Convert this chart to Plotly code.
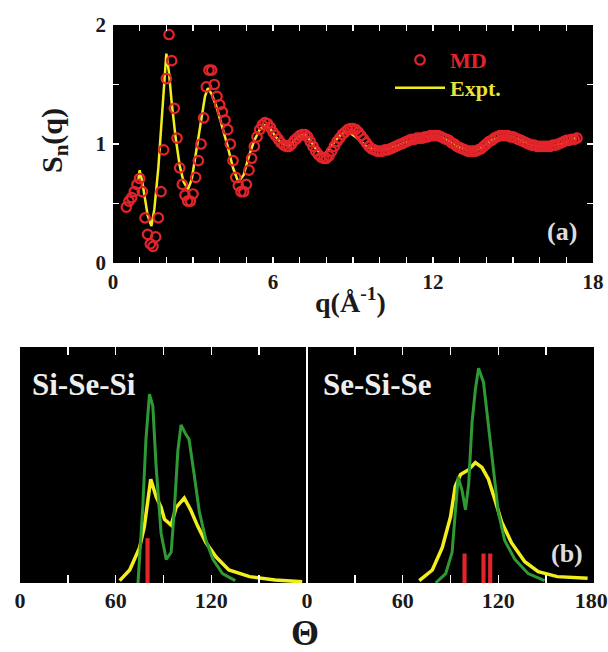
import plotly.graph_objects as go

# ---------------- panel (a): S_n(q) ----------------
q_md = [0.5, 0.6, 0.7, 0.8, 0.9, 1.0, 1.1, 1.2, 1.3, 1.4, 1.5, 1.6, 1.7, 1.8, 1.9,
        2.0, 2.1, 2.2, 2.3, 2.4, 2.5, 2.6, 2.7, 2.8, 2.9, 3.0, 3.1, 3.2, 3.3, 3.4,
        3.5, 3.6, 3.7, 3.8, 3.9, 4.0, 4.1, 4.2, 4.3, 4.4, 4.5, 4.6, 4.7, 4.8, 4.9,
        5.0, 5.1, 5.2, 5.3, 5.4, 5.5, 5.6, 5.7, 5.8, 5.9, 6.0, 6.1, 6.2, 6.3, 6.4,
        6.5, 6.6, 6.7, 6.8, 6.9, 7.0, 7.1, 7.2, 7.3, 7.4, 7.5, 7.6, 7.7, 7.8, 7.9,
        8.0, 8.1, 8.2, 8.3, 8.4, 8.5, 8.6, 8.7, 8.8, 8.9, 9.0, 9.1, 9.2, 9.3, 9.4,
        9.5, 9.6, 9.7, 9.8, 9.9, 10.0, 10.1, 10.2, 10.3, 10.4, 10.5, 10.6, 10.7, 10.8, 10.9,
        11.0, 11.1, 11.2, 11.3, 11.4, 11.5, 11.6, 11.7, 11.8, 11.9, 12.0, 12.1, 12.2, 12.3, 12.4,
        12.5, 12.6, 12.7, 12.8, 12.9, 13.0, 13.1, 13.2, 13.3, 13.4, 13.5, 13.6, 13.7, 13.8, 13.9,
        14.0, 14.1, 14.2, 14.3, 14.4, 14.5, 14.6, 14.7, 14.8, 14.9, 15.0, 15.1, 15.2, 15.3, 15.4,
        15.5, 15.6, 15.7, 15.8, 15.9, 16.0, 16.1, 16.2, 16.3, 16.4, 16.5, 16.6, 16.7, 16.8, 16.9,
        17.0, 17.1, 17.2, 17.3, 17.4]
s_md = [0.47, 0.52, 0.55, 0.60, 0.66, 0.71, 0.60, 0.38, 0.24, 0.16, 0.14, 0.22, 0.38, 0.60, 0.95,
        1.55, 1.92, 1.70, 1.30, 1.05, 0.80, 0.66, 0.57, 0.52, 0.52, 0.58, 0.72, 0.86, 1.00, 1.22,
        1.48, 1.62, 1.62, 1.50, 1.40, 1.33, 1.27, 1.20, 1.12, 1.00, 0.86, 0.72, 0.65, 0.60, 0.60,
        0.66, 0.78, 0.88, 0.98, 1.06, 1.12, 1.16, 1.18, 1.17, 1.14, 1.10, 1.07, 1.04, 1.01, 0.99,
        0.98, 0.98, 1.00, 1.03, 1.05, 1.07, 1.08, 1.08, 1.06, 1.02, 0.98, 0.94, 0.91, 0.89, 0.88,
        0.88, 0.90, 0.94, 0.98, 1.02, 1.05, 1.08, 1.10, 1.12, 1.13, 1.13, 1.12, 1.10, 1.07, 1.04,
        1.01, 0.98, 0.96, 0.95, 0.94, 0.94, 0.94, 0.95, 0.95, 0.96, 0.97, 0.98, 0.99, 1.00, 1.01,
        1.02, 1.03, 1.04, 1.04, 1.05, 1.05, 1.05, 1.06, 1.06, 1.07, 1.07, 1.07, 1.07, 1.06, 1.05,
        1.04, 1.03, 1.01, 1.00, 0.98, 0.97, 0.96, 0.95, 0.94, 0.94, 0.94, 0.94, 0.95, 0.96, 0.98,
        1.00, 1.02, 1.03, 1.05, 1.06, 1.07, 1.07, 1.07, 1.07, 1.06, 1.06, 1.05, 1.04, 1.03, 1.02,
        1.01, 1.00, 0.99, 0.99, 0.98, 0.98, 0.98, 0.98, 0.98, 0.98, 0.99, 0.99, 1.00, 1.01, 1.02,
        1.03, 1.03, 1.04, 1.04, 1.05]

q_expt = [0.95, 1.0, 1.1, 1.2, 1.3, 1.44, 1.55, 1.7, 1.85, 2.0, 2.1, 2.2, 2.35, 2.5, 2.65,
          2.81, 2.95, 3.1, 3.3, 3.45, 3.56, 3.7, 3.9, 4.1, 4.3, 4.5, 4.7, 4.9, 5.1, 5.3,
          5.5, 5.7, 5.9, 6.1, 6.3, 6.5, 6.65, 6.8, 7.0, 7.2, 7.4, 7.6, 7.8, 7.95, 8.1,
          8.3, 8.5, 8.7, 8.9, 9.1, 9.3, 9.5, 9.7, 10.0, 10.3, 10.6, 10.9, 11.2, 11.5, 11.8,
          12.1, 12.4, 12.7, 13.0, 13.3, 13.6, 13.9, 14.2, 14.5, 14.8, 15.1, 15.4, 15.7, 16.0, 16.3,
          16.6, 16.9, 17.2, 17.4]
s_expt = [0.70, 0.78, 0.68, 0.52, 0.40, 0.31, 0.45, 0.80, 1.25, 1.76, 1.60, 1.35, 1.05, 0.82, 0.68,
          0.62, 0.70, 0.90, 1.20, 1.40, 1.47, 1.42, 1.30, 1.15, 0.98, 0.80, 0.68, 0.74, 0.90, 1.03,
          1.12, 1.16, 1.13, 1.06, 1.01, 0.99, 0.99, 1.03, 1.07, 1.08, 1.03, 0.96, 0.92, 0.92, 0.96,
          1.02, 1.07, 1.10, 1.09, 1.06, 1.02, 0.98, 0.96, 0.95, 0.96, 0.98, 1.01, 1.03, 1.05, 1.06,
          1.07, 1.05, 1.01, 0.97, 0.95, 0.95, 0.98, 1.03, 1.06, 1.07, 1.05, 1.02, 0.99, 0.98, 0.98,
          0.99, 1.01, 1.04, 1.05]

# ---------------- panel (b): bond-angle distributions ----------------
# Si-Se-Si
th_sesi_yel = [62.5, 68.8, 75, 78, 82, 85.4, 88.5, 90.6, 94.8, 97.9, 103, 107, 111.5, 116.7, 123, 131, 144, 160, 177]
p_sesi_yel = [0.01, 0.055, 0.15, 0.24, 0.44, 0.365, 0.32, 0.27, 0.245, 0.32, 0.36, 0.31, 0.24, 0.17, 0.11, 0.055, 0.027, 0.013, 0.005]
th_sesi_grn = [74, 77, 79, 81.2, 83.3, 85.4, 88.5, 91.7, 94.8, 96.9, 99, 101, 104, 106, 109, 112.5, 116.7, 121, 127, 135]
p_sesi_grn = [0.0, 0.32, 0.61, 0.80, 0.75, 0.49, 0.21, 0.10, 0.13, 0.32, 0.56, 0.67, 0.63, 0.61, 0.47, 0.30, 0.18, 0.10, 0.04, 0.01]
th_sesi_bar = [80]
h_sesi_bar = [0.19]

# Se-Si-Se
th_sise_yel = [70.4, 78.6, 84.8, 90, 93, 96.3, 101.4, 105.6, 109.7, 113.8, 118, 122, 128.3, 136.6, 145, 157, 176]
p_sise_yel = [0.01, 0.055, 0.15, 0.28, 0.41, 0.46, 0.48, 0.51, 0.49, 0.44, 0.35, 0.26, 0.17, 0.09, 0.048, 0.027, 0.02]
th_sise_grn = [80.7, 87, 91, 93, 94.8, 97.3, 99.4, 101.4, 103.5, 105.6, 107.6, 110.7, 113.8, 117, 120, 124, 130.4, 138.7, 149]
p_sise_grn = [0.0, 0.04, 0.13, 0.32, 0.45, 0.39, 0.31, 0.42, 0.68, 0.82, 0.91, 0.85, 0.66, 0.46, 0.30, 0.18, 0.10, 0.04, 0.01]
th_sise_bar = [98.8, 110.7, 114.9]
h_sise_bar = [0.125, 0.125, 0.125]

# tick labels
q_tickvals = list(range(0, 19))
q_ticktext = ["<b>%d</b>" % v if v % 6 == 0 else " " for v in q_tickvals]
s_tickvals = [0, 0.5, 1, 1.5, 2]
s_ticktext = ["<b>0</b>", " ", "<b>1</b>", " ", "<b>2</b>"]
th_tickvals = [0, 30, 60, 90, 120, 150, 180]
th_ticktext_left = ["<b>0</b>", " ", "<b>60</b>", " ", "<b>120</b>", " ", " "]
th_ticktext_right = ["<b>0</b>", " ", "<b>60</b>", " ", "<b>120</b>", " ", "<b>180</b>&nbsp;"]

RED = "#e3242b"
YEL = "#f2ee1e"
GRN = "#2f9a34"
SERIF = "Liberation Serif"

W, H = 608, 652
def px(x):
    return x / W
def py(y):
    return 1 - y / H

fig = go.Figure()

fig.add_trace(go.Scatter(x=q_expt, y=s_expt, mode="lines", name='<b><span style="color:#e8e23a">Expt.</span></b>',
                         line=dict(color=YEL, width=2.5), xaxis="x", yaxis="y", legend="legend2"))
fig.add_trace(go.Scatter(x=q_md, y=s_md, mode="markers", name='<b><span style="color:#e3242b">MD</span></b>',
                         marker=dict(symbol="circle-open", size=9.5, color=RED, line=dict(width=2.2, color=RED)),
                         xaxis="x", yaxis="y", legend="legend"))

# left bottom
fig.add_trace(go.Bar(x=th_sesi_bar, y=h_sesi_bar, width=2.6, marker=dict(color=RED, line=dict(width=0)),
                     xaxis="x2", yaxis="y2", showlegend=False))
fig.add_trace(go.Scatter(x=th_sesi_yel, y=p_sesi_yel, mode="lines", line=dict(color=YEL, width=3.5),
                         xaxis="x2", yaxis="y2", showlegend=False))
fig.add_trace(go.Scatter(x=th_sesi_grn, y=p_sesi_grn, mode="lines", line=dict(color=GRN, width=3),
                         xaxis="x2", yaxis="y2", showlegend=False))
# right bottom
fig.add_trace(go.Bar(x=th_sise_bar, y=h_sise_bar, width=2.6, marker=dict(color=RED, line=dict(width=0)),
                     xaxis="x3", yaxis="y3", showlegend=False))
fig.add_trace(go.Scatter(x=th_sise_yel, y=p_sise_yel, mode="lines", line=dict(color=YEL, width=3.5),
                         xaxis="x3", yaxis="y3", showlegend=False))
fig.add_trace(go.Scatter(x=th_sise_grn, y=p_sise_grn, mode="lines", line=dict(color=GRN, width=3),
                         xaxis="x3", yaxis="y3", showlegend=False))

def axis_common(size, standoff):
    return dict(ticks="inside", tickcolor="white", tickwidth=1.5, showgrid=False, zeroline=False,
                showline=False, mirror="ticks", automargin=False, fixedrange=True,
                ticklabeloverflow="allow", ticklabelstandoff=standoff,
                tickfont=dict(family=SERIF, size=size, color="#1a1a1a"))

fig.update_layout(
    template="none",
    width=W, height=H, margin=dict(l=0, r=0, t=0, b=0, autoexpand=False),
    paper_bgcolor="white", plot_bgcolor="black",
    barmode="overlay",
    xaxis=dict(domain=[px(113), px(593)], range=[0, 18], tickvals=q_tickvals, ticktext=q_ticktext,
               ticklen=6, anchor="y", **axis_common(21, 4)),
    yaxis=dict(domain=[py(263), py(25)], range=[0, 2], tickvals=s_tickvals, ticktext=s_ticktext,
               ticklen=6, anchor="x", **axis_common(21, 6)),
    xaxis2=dict(domain=[px(20), px(307)], range=[0, 180], tickvals=th_tickvals, ticktext=th_ticktext_left,
                ticklen=8, anchor="y2", **axis_common(22, 2)),
    yaxis2=dict(domain=[py(583), py(347)], range=[0, 1], showticklabels=False, ticks="",
                showgrid=False, zeroline=False, showline=False, anchor="x2", fixedrange=True, automargin=False),
    xaxis3=dict(domain=[px(307), px(594)], range=[0, 180], tickvals=th_tickvals, ticktext=th_ticktext_right,
                ticklen=8, anchor="y3", **axis_common(22, 2)),
    yaxis3=dict(domain=[py(583), py(347)], range=[0, 1], showticklabels=False, ticks="",
                showgrid=False, zeroline=False, showline=False, anchor="x3", fixedrange=True, automargin=False),
    legend=dict(x=px(390), y=py(60), xanchor="left", yanchor="middle", bgcolor="rgba(0,0,0,0)",
                borderwidth=0, itemwidth=50, font=dict(family=SERIF, size=22)),
    legend2=dict(x=px(390), y=py(88), xanchor="left", yanchor="middle", bgcolor="rgba(0,0,0,0)",
                 borderwidth=0, itemwidth=50, font=dict(family=SERIF, size=22)),
    showlegend=True,
)

fig.add_shape(type="line", xref="paper", yref="paper", x0=px(307), x1=px(307), y0=py(583), y1=py(347),
              line=dict(color="white", width=2))

ann = [
    dict(text="<b>S<sub>n</sub>(q)</b>", x=px(54), y=py(141), textangle=-90,
         font=dict(family=SERIF, size=30, color="#1a1a1a")),
    dict(text="<b>q(Å<sup>-1</sup>)</b>", x=px(350), y=py(300),
         font=dict(family=SERIF, size=28, color="#1a1a1a")),
    dict(text="<b>(a)</b>", x=px(562), y=py(231), font=dict(family=SERIF, size=26, color="#dddddd")),
    dict(text="<b>Si-Se-Si</b>", x=px(84), y=py(384), font=dict(family=SERIF, size=31, color="#eeeeee")),
    dict(text="<b>Se-Si-Se</b>", x=px(377), y=py(384), font=dict(family=SERIF, size=31, color="#eeeeee")),
    dict(text="<b>(b)</b>", x=px(567), y=py(553), font=dict(family=SERIF, size=26, color="#dddddd")),
    dict(text="<b>Θ</b>", x=px(305), y=py(633), font=dict(family=SERIF, size=36, color="#1a1a1a")),
]
for a in ann:
    fig.add_annotation(xref="paper", yref="paper", showarrow=False, xanchor="center", yanchor="middle", **a)

fig.write_html("out.html", config={"displayModeBar": False, "staticPlot": True},
               post_script="document.body.style.margin='0px';document.body.style.overflow='hidden';")
